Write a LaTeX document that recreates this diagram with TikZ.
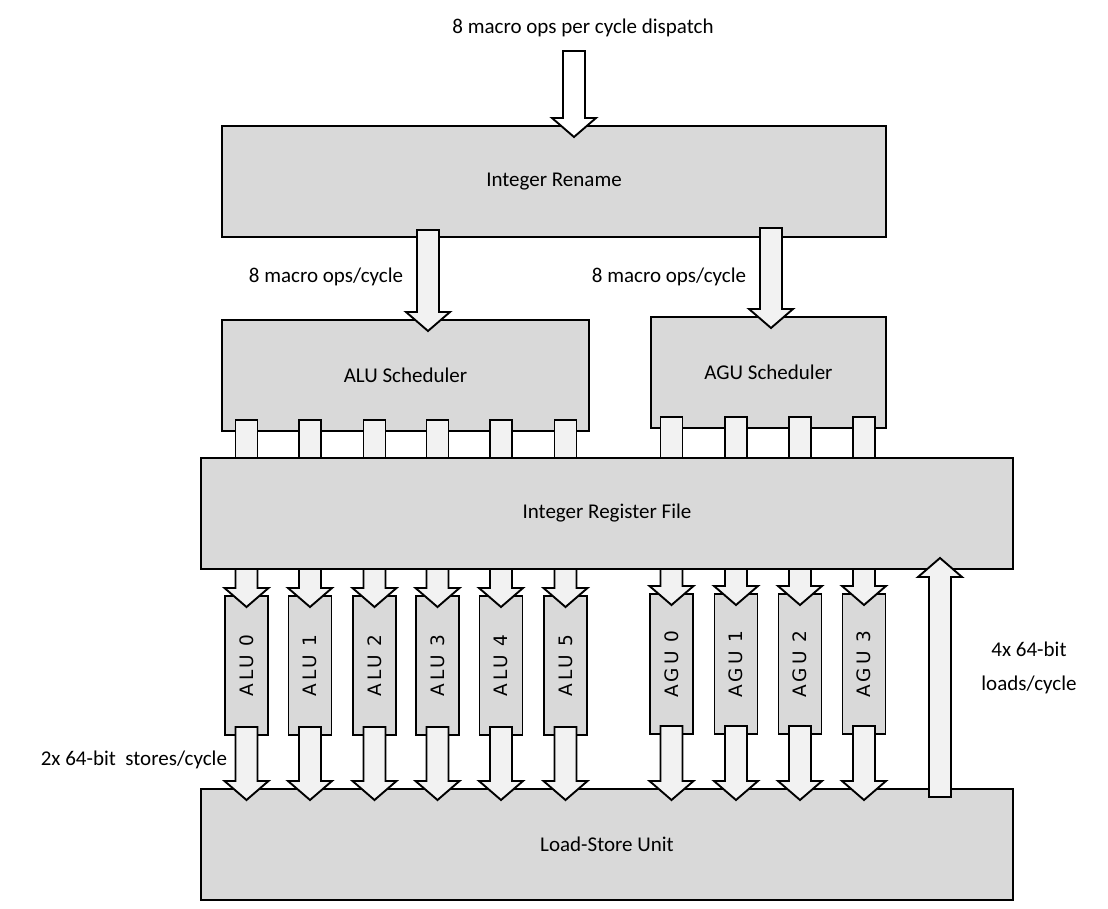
\documentclass[tikz,border=0pt]{standalone}
\usepackage{fontspec}
\usepackage{graphicx}
\setmainfont{Carlito}
\newfontfamily\unitfont[LetterSpace=15]{DejaVu Sans}
\usetikzlibrary{calc}
\definecolor{cd9d9d9}{RGB}{217,217,217}
\definecolor{cf2f2f2}{RGB}{242,242,242}

\newcommand{\fatarrow}[4][cf2f2f2]{%
  \coordinate (fa-s) at ($(#3)!-#2pt!(#4)$);
  \coordinate (fa-t) at ($(#4)!-11pt!(#3)$);
  \coordinate (fa-h) at ($(fa-t)!19pt!(fa-s)$);
  \path[draw=black,fill=#1,line join=miter,line width=1.9pt]
  ($(fa-s)!11pt!90:(fa-t)$) -- ($(fa-h)!11pt!90:(fa-t)$) --
  ($(fa-h)!22pt!90:(fa-t)$) -- (fa-t) -- ($(fa-h)!22pt!-90:(fa-t)$) --
  ($(fa-h)!11pt!-90:(fa-t)$) -- ($(fa-s)!11pt!-90:(fa-t)$) -- cycle;}

\begin{document}
\begin{tikzpicture}[y=-1pt, x=1pt, inner sep=0pt, outer sep=0pt,
  box/.style={draw=black,fill=cd9d9d9,line width=1.9pt,
    font=\fontsize{21}{25}\selectfont},
  unitbox/.style={box,minimum width=43,minimum height=139,
    font=\unitfont\fontsize{18.5}{22}\selectfont},
  port/.style={draw=black,fill=cf2f2f2,line width=1.9pt},
  lbl/.style={font=\fontsize{21}{25}\selectfont}]
  \useasboundingbox (0,0) rectangle (1108,909);

  \node[box,minimum width=664,minimum height=111] (rename) at (554,181.5) {Integer Rename};
  \node[box,minimum width=367,minimum height=111] (alusch) at (405.5,375.5) {ALU Scheduler};
  \node[box,minimum width=235,minimum height=111] (agusch) at (768.5,372.5) {AGU Scheduler};
  \node[box,minimum width=812,minimum height=111] (regfile) at (607,513.5) {Integer Register File};
  \node[box,minimum width=812,minimum height=111] (lsu) at (607,844.5) {Load-Store Unit};

  \foreach \i/\x in {0/246.5,1/310,2/374.5,3/437.5,4/501,5/565.5}
    \node[unitbox] (alu\i) at (\x,665.5) {\rotatebox{90}{ALU \i}};
  \foreach \i/\x in {0/671.5,1/736,2/800,3/864}
    \node[unitbox,minimum height=140] (agu\i) at (\x,664) {\rotatebox{90}{AGU \i}};

  \foreach \i in {0,...,5}
    \path[port] ($(alusch.south -| alu\i)+(-11,-11)$) rectangle ($(regfile.north -| alu\i)+(11,0)$);
  \foreach \i in {0,...,3}
    \path[port] ($(agusch.south -| agu\i)+(-11,-11)$) rectangle ($(regfile.north -| agu\i)+(11,0)$);

  \coordinate (dispatch) at (574,51);
  \coordinate (alusch in) at ($(alusch.north)+(22.5,0)$);
  \coordinate (agusch in) at ($(agusch.north)+(2.5,0)$);
  \coordinate (lsu out) at ($(lsu.north)+(333,0)$);

  \fatarrow[white]{0}{dispatch}{rename.north -| dispatch}
  \fatarrow{7}{rename.south -| alusch in}{alusch in}
  \fatarrow{9}{rename.south -| agusch in}{agusch in}
  \foreach \i in {0,...,5} {
    \fatarrow{0}{regfile.south -| alu\i}{alu\i.north}
    \fatarrow{8}{alu\i.south}{lsu.north -| alu\i}
  }
  \foreach \i in {0,...,3} {
    \fatarrow{0}{regfile.south -| agu\i}{agu\i.north}
    \fatarrow{8}{agu\i.south}{lsu.north -| agu\i}
  }
  \fatarrow{8}{lsu out}{regfile.south -| lsu out}

  \node[lbl] (dispatch text) at (583,28) {8 macro ops per cycle dispatch};
  \node[lbl] (alusch text) at (326,277) {8 macro ops/cycle};
  \node[lbl] (agusch text) at (669,277) {8 macro ops/cycle};
  \node[lbl,align=center,font=\fontsize{21}{34}\selectfont] (load text) at (1029,668) {4x 64-bit\\loads/cycle};
  \node[lbl,anchor=east] (store text) at (227,760) {2x 64-bit\ \ stores/cycle};
\end{tikzpicture}
\end{document}
